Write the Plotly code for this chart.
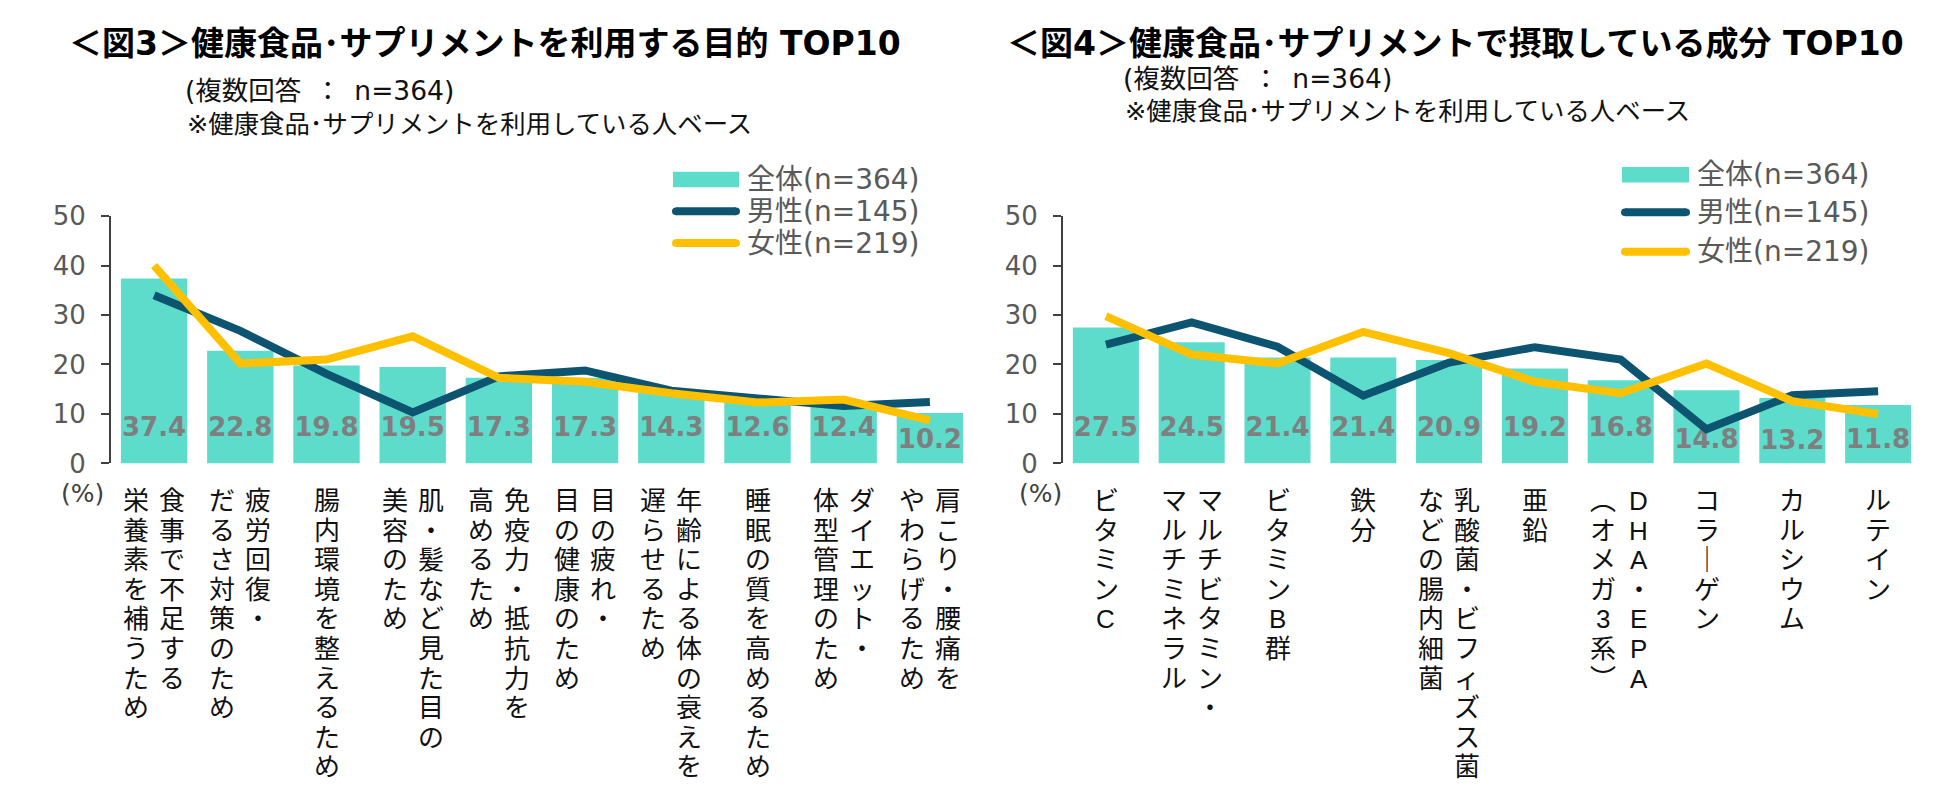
import plotly.graph_objects as go

W, H = 1950, 795

# ---------------- data ----------------
series_names = ["全体(n=364)", "男性(n=145)", "女性(n=219)"]

fig3_title = "＜図3＞健康食品･サプリメントを利用する目的 TOP10"
fig4_title = "＜図4＞健康食品･サプリメントで摂取している成分 TOP10"
subtitle1 = "(複数回答\u2002：\u2002n=364)"
subtitle2 = "※健康食品･サプリメントを利用している人ベース"
unit_label = "(%)"

# each category: list of text columns (first = right-hand column in vertical writing)
fig3_categories = [
    ["食事で不足する", "栄養素を補うため"],
    ["疲労回復・", "だるさ対策のため"],
    ["腸内環境を整えるため"],
    ["肌・髪など見た目の", "美容のため"],
    ["免疫力・抵抗力を", "高めるため"],
    ["目の疲れ・", "目の健康のため"],
    ["年齢による体の衰えを", "遅らせるため"],
    ["睡眠の質を高めるため"],
    ["ダイエット・", "体型管理のため"],
    ["肩こり・腰痛を", "やわらげるため"],
]
fig3_total = [37.4, 22.8, 19.8, 19.5, 17.3, 17.3, 14.3, 12.6, 12.4, 10.2]
fig3_male = [34.0, 26.8, 18.1, 10.3, 17.6, 18.8, 14.7, 13.3, 11.6, 12.4]
fig3_female = [40.0, 20.2, 21.0, 25.7, 17.3, 16.5, 14.2, 12.3, 12.9, 8.7]

fig4_categories = [
    ["ビタミンC"],
    ["マルチビタミン・", "マルチミネラル"],
    ["ビタミンB群"],
    ["鉄分"],
    ["乳酸菌・ビフィズス菌", "などの腸内細菌"],
    ["亜鉛"],
    ["DHA・EPA", "(オメガ3系)"],
    ["コラーゲン"],
    ["カルシウム"],
    ["ルテイン"],
]
fig4_total = [27.5, 24.5, 21.4, 21.4, 20.9, 19.2, 16.8, 14.8, 13.2, 11.8]
fig4_male = [24.0, 28.5, 23.6, 13.7, 20.4, 23.5, 21.0, 6.9, 13.8, 14.6]
fig4_female = [29.8, 22.0, 20.2, 26.6, 22.3, 16.5, 14.2, 20.2, 12.6, 10.0]

# ---------------- style ----------------
BAR_C = "#5DDCCB"
MALE_C = "#0C5470"
FEMALE_C = "#FFC000"
LABEL_C = "#7F7F7F"
AXIS_C = "#404040"
TICK_C = "#595959"
LAT = "DejaVu Sans, Noto Sans CJK JP, sans-serif"
VERT = "Liberation Sans, Noto Sans CJK JP, sans-serif"

# data-label vertical placement (value units) per chart
fig3_label_y = [6.9] * 9 + [4.4]
fig4_label_y = [6.9] * 7 + [4.5, 4.3, 4.5]


def px_x(p):
    return p / W


def px_y(p):
    return 1 - p / H


Y_TOP, Y_BOT = 209, 466
y_domain = [px_y(Y_BOT), px_y(Y_TOP)]

fig = go.Figure()

charts = [
    dict(cats=fig3_categories, total=fig3_total, male=fig3_male, female=fig3_female,
         label_y=fig3_label_y, xa="x", ya="y"),
    dict(cats=fig4_categories, total=fig4_total, male=fig4_male, female=fig4_female,
         label_y=fig4_label_y, xa="x2", ya="y2"),
]

for ch in charts:
    names = ["".join(c) for c in ch["cats"]]
    ch["names"] = names
    fig.add_trace(go.Bar(x=names, y=ch["total"], marker_color=BAR_C, marker_line_width=0,
                         xaxis=ch["xa"], yaxis=ch["ya"], showlegend=False, hoverinfo="skip"))
    fig.add_trace(go.Scatter(x=names, y=ch["label_y"], mode="text",
                             text=[f"{v:.1f}" for v in ch["total"]],
                             textfont=dict(family=LAT, size=26, color=LABEL_C, weight="bold"),
                             textposition="middle center",
                             xaxis=ch["xa"], yaxis=ch["ya"], showlegend=False, hoverinfo="skip"))
    fig.add_trace(go.Scatter(x=names, y=ch["male"], mode="lines",
                             line=dict(color=MALE_C, width=8),
                             xaxis=ch["xa"], yaxis=ch["ya"], showlegend=False, hoverinfo="skip"))
    fig.add_trace(go.Scatter(x=names, y=ch["female"], mode="lines",
                             line=dict(color=FEMALE_C, width=8),
                             xaxis=ch["xa"], yaxis=ch["ya"], showlegend=False, hoverinfo="skip"))

axis_common_x = dict(type="category", range=[-0.5, 9.5], showline=False, showgrid=False,
                     zeroline=False, showticklabels=False, ticks="")
axis_common_y = dict(range=[0, 50], dtick=10, showline=True, linecolor=AXIS_C, linewidth=2,
                     ticks="outside", ticklen=8, tickwidth=2, tickcolor=AXIS_C,
                     showgrid=False, zeroline=False, ticklabelstandoff=10,
                     tickfont=dict(family=LAT, size=26, color=TICK_C))

fig.update_layout(
    width=W, height=H,
    margin=dict(l=0, r=0, t=0, b=0),
    paper_bgcolor="white", plot_bgcolor="white",
    bargap=0.23,
    showlegend=False,
    xaxis=dict(domain=[px_x(111), px_x(973)], anchor="y", **axis_common_x),
    yaxis=dict(domain=y_domain, anchor="x", **axis_common_y),
    xaxis2=dict(domain=[px_x(1063), px_x(1921)], anchor="y2", **axis_common_x),
    yaxis2=dict(domain=y_domain, anchor="x2", **axis_common_y),
)

ann = []
shapes = []


def vert(s):
    m = {"ー": "｜", "(": "︵", ")": "︶"}
    return [m.get(c, c) for c in s]


PITCH = 29.6   # vertical distance between characters (px)
FIRST = 38     # centre of first character below the zero line (px)
for ch in charts:
    for name, cols in zip(ch["names"], ch["cats"]):
        offs = [0] if len(cols) == 1 else [18, -18]
        for col, dx in zip(cols, offs):
            for k, c in enumerate(vert(col)):
                ann.append(dict(x=name, y=0, xref=ch["xa"], yref=ch["ya"],
                                xshift=dx, yshift=-round(FIRST + k * PITCH),
                                text=c, showarrow=False, xanchor="center", yanchor="middle",
                                font=dict(family=VERT, size=26, color="#111111")))

# (%) labels
for xc in (82, 1040):
    ann.append(dict(x=px_x(xc), y=px_y(497), xref="paper", yref="paper", text=unit_label,
                    showarrow=False, xanchor="center", yanchor="middle",
                    font=dict(family=LAT, size=25, color=AXIS_C)))

# titles
for x0, yt, ys1, ys2, t in ((67, 30, 78, 113, fig3_title), (1005, 30, 66, 100, fig4_title)):
    ann.append(dict(x=px_x(x0), y=px_y(yt), xref="paper", yref="paper", text=f"<b>{t}</b>",
                    showarrow=False, xanchor="left", yanchor="middle",
                    font=dict(family=LAT, size=33, color="#000000")))
    ann.append(dict(x=px_x(x0 + 116), y=px_y(ys1), xref="paper", yref="paper", text=subtitle1,
                    showarrow=False, xanchor="left", yanchor="middle",
                    font=dict(family=LAT, size=26.5, color="#111111")))
    ann.append(dict(x=px_x(x0 + 118), y=px_y(ys2), xref="paper", yref="paper", text=subtitle2,
                    showarrow=False, xanchor="left", yanchor="middle",
                    font=dict(family=LAT, size=25.4, color="#111111")))

# legends (manual)
legend_specs = [
    dict(x0=673, x1=739, tx=745, rows=[171, 204, 237]),
    dict(x0=1622, x1=1689, tx=1695, rows=[166, 205, 246]),
]
for lg in legend_specs:
    r0, r1, r2 = lg["rows"]
    shapes.append(dict(type="rect", xref="paper", yref="paper",
                       x0=px_x(lg["x0"]), x1=px_x(lg["x1"]), y0=px_y(r0 + 8), y1=px_y(r0 - 8),
                       fillcolor=BAR_C, line=dict(width=0)))
    for r, col in ((r1, MALE_C), (r2, FEMALE_C)):
        shapes.append(dict(type="line", xref="paper", yref="paper",
                           x0=px_x(lg["x0"] + 3), x1=px_x(lg["x1"] - 3), y0=px_y(r), y1=px_y(r),
                           line=dict(color=col, width=8)))
        for xe in (lg["x0"] + 3, lg["x1"] - 3):
            shapes.append(dict(type="circle", xref="paper", yref="paper",
                               x0=px_x(xe - 4), x1=px_x(xe + 4), y0=px_y(r + 4), y1=px_y(r - 4),
                               fillcolor=col, line=dict(width=0)))
    for r, nm in zip(lg["rows"], series_names):
        ann.append(dict(x=px_x(lg["tx"]), y=px_y(r), xref="paper", yref="paper", text=nm,
                        showarrow=False, xanchor="left", yanchor="middle",
                        font=dict(family=LAT, size=28, color=TICK_C)))

fig.update_layout(annotations=ann, shapes=shapes)
fig.write_html("out.html")
